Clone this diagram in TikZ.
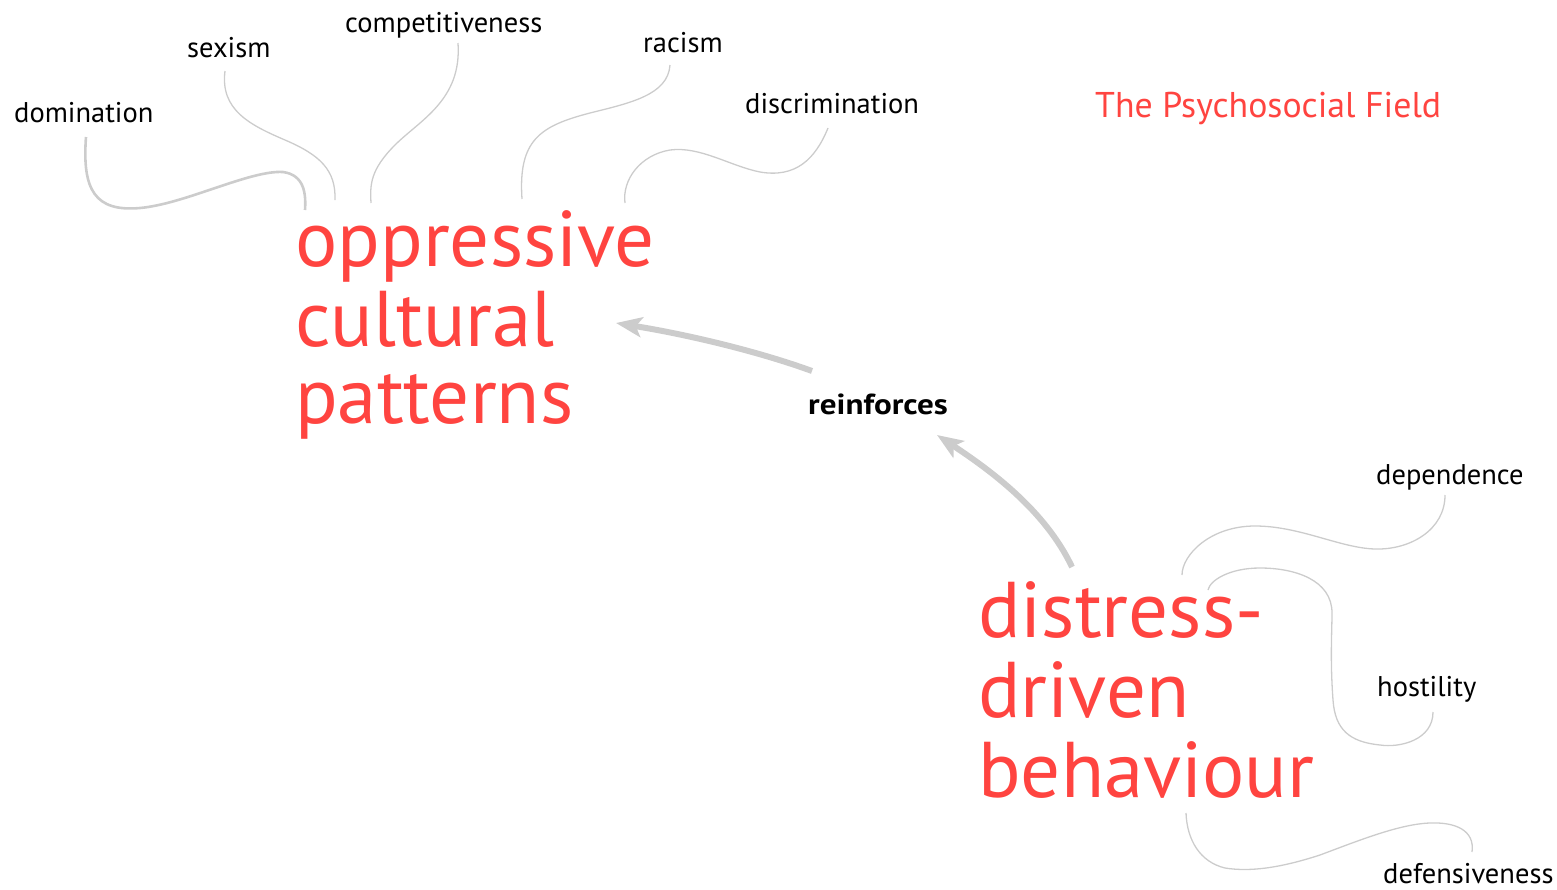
\documentclass[tikz,border=0pt]{standalone}
\usepackage{fontspec}
\setmainfont{PT Sans}
\newfontfamily\verbfont{PT Sans}[FakeStretch=1.14]
\usetikzlibrary{arrows.meta}
\definecolor{accent}{RGB}{255,68,64}
\definecolor{wire}{RGB}{204,204,204}
\tikzset{
  lbl/.style={anchor=base west, inner sep=0pt, font=\fontsize{28.5}{28.5}\selectfont, text=black},
  big/.style={anchor=base west, inner sep=0pt, font=\fontsize{79}{79}\selectfont, text=accent},
  ttl/.style={anchor=base west, inner sep=0pt, font=\fontsize{35.8}{35.8}\selectfont, text=accent},
  verb/.style={anchor=base west, inner sep=0pt, font=\verbfont\bfseries\fontsize{29}{29}\selectfont, text=black},
  thread/.style={draw=wire, line width=1.3pt},
  thickthread/.style={draw=wire, line width=2.6pt},
  arr/.style={draw=wire, line width=6pt, -{Stealth[length=26pt, width=20pt, inset=6pt]}}
}
\begin{document}
\begin{tikzpicture}[x=1pt, y=-1pt]
\useasboundingbox (0,0) rectangle (1557,889);
% labels
\node[lbl] (dom) at (14,122) {domination};
\node[lbl] (sex) at (187,57) {sexism};
\node[lbl] (comp) at (345,32) {competitiveness};
\node[lbl] (rac) at (643,52) {racism};
\node[lbl] (disc) at (745,113) {discrimination};
\node[ttl] (title) at (1095,117) {The Psychosocial Field};
\node[big] (op1) at (295,266) {oppressive};
\node[big] (op2) at (295,346) {cultural};
\node[big] (op3) at (295,423) {patterns};
\node[verb] (reinf) at (808,414) {reinforces};
\node[big] (db1) at (978,637) {distress-};
\node[big] (db2) at (978,717) {driven};
\node[big] (db3) at (978,797) {behaviour};
\node[lbl] (dep) at (1376,484) {dependence};
\node[lbl] (host) at (1377,696) {hostility};
\node[lbl] (def) at (1383,883) {defensiveness};
% thread end points
\coordinate (domA) at (86,137);   \coordinate (domB) at (305,210);
\coordinate (sexA) at (225,71);   \coordinate (sexB) at (335,200);
\coordinate (compA) at (458,43);  \coordinate (compB) at (371,203);
\coordinate (racA) at (670,65);   \coordinate (racB) at (522,199);
\coordinate (discA) at (828,128); \coordinate (discB) at (625,203);
\coordinate (depA) at (1445,495); \coordinate (depB) at (1182,575);
\coordinate (hostA) at (1433,712);\coordinate (hostB) at (1208,590);
\coordinate (defA) at (1472,852); \coordinate (defB) at (1186,813);
\coordinate (ar1A) at (812,371);  \coordinate (ar1B) at (616,323);
\coordinate (ar2A) at (1072,567); \coordinate (ar2B) at (937,435);
% threads
\draw[thickthread] (domA) .. controls (82,190) and (95,212) .. (140,208)
  .. controls (185,204) and (250,170) .. (283,172)
  .. controls (305,175) and (306,195) .. (domB);
\draw[thread] (sexA) .. controls (220,110) and (250,125) .. (285,140)
  .. controls (320,155) and (336,170) .. (sexB);
\draw[thread] (compA) .. controls (462,100) and (420,120) .. (395,145)
  .. controls (370,170) and (370,185) .. (compB);
\draw[thread] (racA) .. controls (668,95) and (630,103) .. (590,113)
  .. controls (540,126) and (518,140) .. (racB);
\draw[thread] (discA) .. controls (815,160) and (795,178) .. (760,172)
  .. controls (730,166) and (700,146) .. (670,150)
  .. controls (640,155) and (622,180) .. (discB);
\draw[thread] (depA) .. controls (1445,530) and (1410,550) .. (1375,549)
  .. controls (1340,548) and (1300,526) .. (1255,526)
  .. controls (1210,526) and (1182,555) .. (depB);
\draw[thread] (hostA) .. controls (1433,740) and (1400,748) .. (1380,745)
  .. controls (1350,742) and (1335,730) .. (1333,700)
  .. controls (1330,660) and (1332,630) .. (1332,613)
  .. controls (1332,580) and (1295,568) .. (1260,568)
  .. controls (1230,568) and (1210,580) .. (hostB);
\draw[thread] (defA) .. controls (1475,830) and (1455,822) .. (1430,823)
  .. controls (1400,824) and (1360,840) .. (1320,855)
  .. controls (1280,868) and (1250,872) .. (1225,868)
  .. controls (1200,862) and (1187,840) .. (defB);
% arrows
\draw[arr] (ar1A) .. controls (760,352) and (690,335) .. (ar1B);
\draw[arr] (ar2A) .. controls (1045,510) and (990,470) .. (ar2B);
\end{tikzpicture}
\end{document}
